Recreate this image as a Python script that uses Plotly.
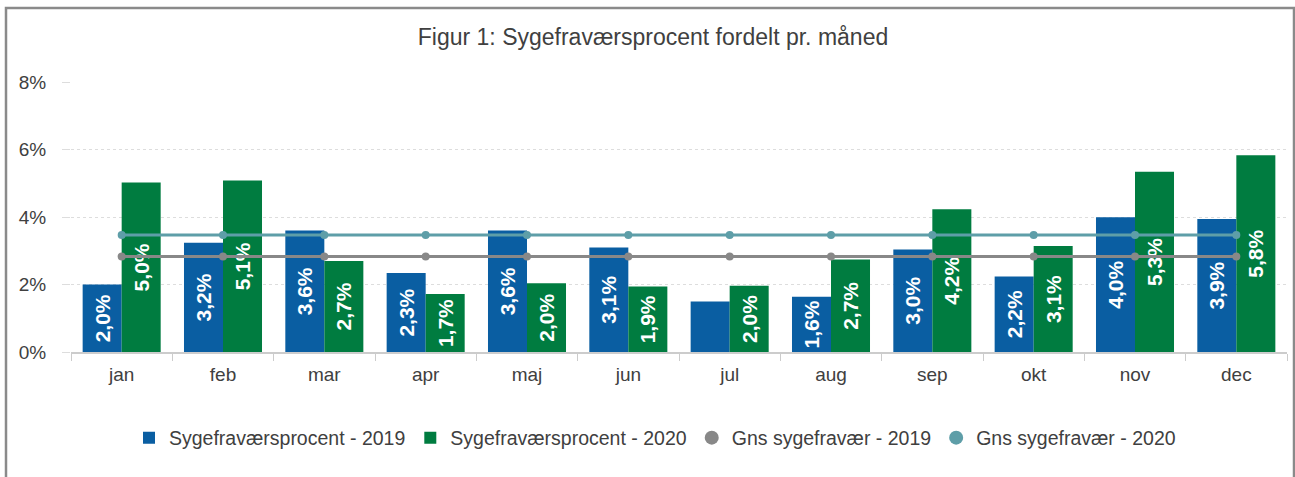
import plotly.graph_objects as go

months = ["jan", "feb", "mar", "apr", "maj", "jun", "jul", "aug", "sep", "okt", "nov", "dec"]
sick_2019 = [2.0, 3.24, 3.6, 2.34, 3.6, 3.1, 1.5, 1.64, 3.04, 2.24, 3.99, 3.94]
sick_2020 = [5.02, 5.08, 2.7, 1.72, 2.04, 1.94, 1.96, 2.74, 4.23, 3.14, 5.34, 5.83]
avg_2019 = [2.83, 2.83, 2.83, 2.83, 2.83, 2.83, 2.83, 2.83, 2.83, 2.83, 2.83, 2.83]
avg_2020 = [3.47, 3.47, 3.47, 3.47, 3.47, 3.47, 3.47, 3.47, 3.47, 3.47, 3.47, 3.47]
y_ticks = [0, 2, 4, 6, 8]
y_tick_labels = ["0%", "2%", "4%", "6%", "8%"]
title_text = "Figur 1: Sygefraværsprocent fordelt pr. måned"
names = ["Sygefraværsprocent - 2019", "Sygefraværsprocent - 2020",
         "Gns sygefravær - 2019", "Gns sygefravær - 2020"]

BLUE = "#0A5EA2"
GREEN = "#007C40"
GRAY = "#888888"
TEAL = "#5E9EA8"
FONT = "Liberation Sans, Arial, sans-serif"
TXT = "#404040"


def fmt(v):
    return f"{v:.1f}".replace(".", ",") + "%"


text_2019 = [fmt(v) for v in sick_2019]
text_2019[6] = ""  # label not shown in the original for jul
text_2020 = [fmt(v) for v in sick_2020]

fig = go.Figure()
label_font = dict(family=FONT, size=21, color="white", weight="bold")
fig.add_trace(go.Bar(x=months, y=sick_2019, name=names[0], marker=dict(color=BLUE, line=dict(width=0)),
                     text=text_2019, textposition="inside", insidetextanchor="middle", textangle=-90,
                     textfont=label_font, hoverinfo="skip"))
fig.add_trace(go.Bar(x=months, y=sick_2020, name=names[1], marker=dict(color=GREEN, line=dict(width=0)),
                     text=text_2020, textposition="inside", insidetextanchor="middle", textangle=-90,
                     textfont=label_font, hoverinfo="skip"))
fig.add_trace(go.Scatter(x=months, y=avg_2019, mode="lines+markers", name=names[2], showlegend=False,
                         line=dict(color=GRAY, width=3), marker=dict(color=GRAY, size=8)))
fig.add_trace(go.Scatter(x=months, y=avg_2020, mode="lines+markers", name=names[3], showlegend=False,
                         line=dict(color=TEAL, width=3), marker=dict(color=TEAL, size=8)))
# legend entries for the lines show only a circle
fig.add_trace(go.Scatter(x=[None], y=[None], mode="markers", name=names[2],
                         marker=dict(color=GRAY, size=14, symbol="circle")))
fig.add_trace(go.Scatter(x=[None], y=[None], mode="markers", name=names[3],
                         marker=dict(color=TEAL, size=14, symbol="circle")))

W, H = 1295, 477
L, R, T, B = 71, 8, 82, 125
pw, ph = W - L - R, H - T - B

fig.update_layout(
    width=W, height=H,
    margin=dict(l=L, r=R, t=T, b=B),
    paper_bgcolor="white", plot_bgcolor="white",
    barmode="group", bargap=0.23, bargroupgap=0,
    font=dict(family=FONT, size=19, color=TXT),
    title=dict(text=title_text, x=(653 - L) / pw, xref="paper", xanchor="center",
               y=1 - 37 / H, yanchor="middle", font=dict(family=FONT, size=23, color=TXT)),
    legend=dict(orientation="h", x=(655 - L) / pw, xanchor="center", y=-(438 - (T + ph)) / ph,
                yanchor="middle", font=dict(family=FONT, size=19.5, color=TXT),
                itemwidth=30, traceorder="normal", tracegroupgap=0),
    showlegend=True,
)
fig.update_xaxes(range=[-0.5, len(months) - 0.5], autorange=False,
                 showline=True, linecolor="#cccccc", linewidth=1.5, ticks="outside", ticklen=7,
                 tickcolor="#cccccc", tickson="boundaries", showgrid=False, ticklabelstandoff=4,
                 tickfont=dict(family=FONT, size=19, color=TXT))
fig.update_yaxes(range=[0, 8], tickvals=y_ticks, ticktext=y_tick_labels, showgrid=True,
                 gridcolor="#dddddd", griddash="dot", gridwidth=1, zeroline=False, showline=False,
                 ticks="outside", ticklen=8, tickcolor="#dddddd", ticklabelstandoff=12,
                 tickfont=dict(family=FONT, size=19, color=TXT))

# outer frame of the figure
fig.add_shape(type="rect", xref="paper", yref="paper",
              x0=(6 - L) / pw, x1=(1294 - L) / pw, y0=-(500 - T - ph) / ph, y1=(T + ph - 8) / ph,
              line=dict(color="#8a8a8a", width=2.5), fillcolor="rgba(0,0,0,0)", layer="above")

fig.write_html("out.html", config={"displayModeBar": False},
               post_script="document.body.style.margin='0';document.body.style.overflow='hidden';")
